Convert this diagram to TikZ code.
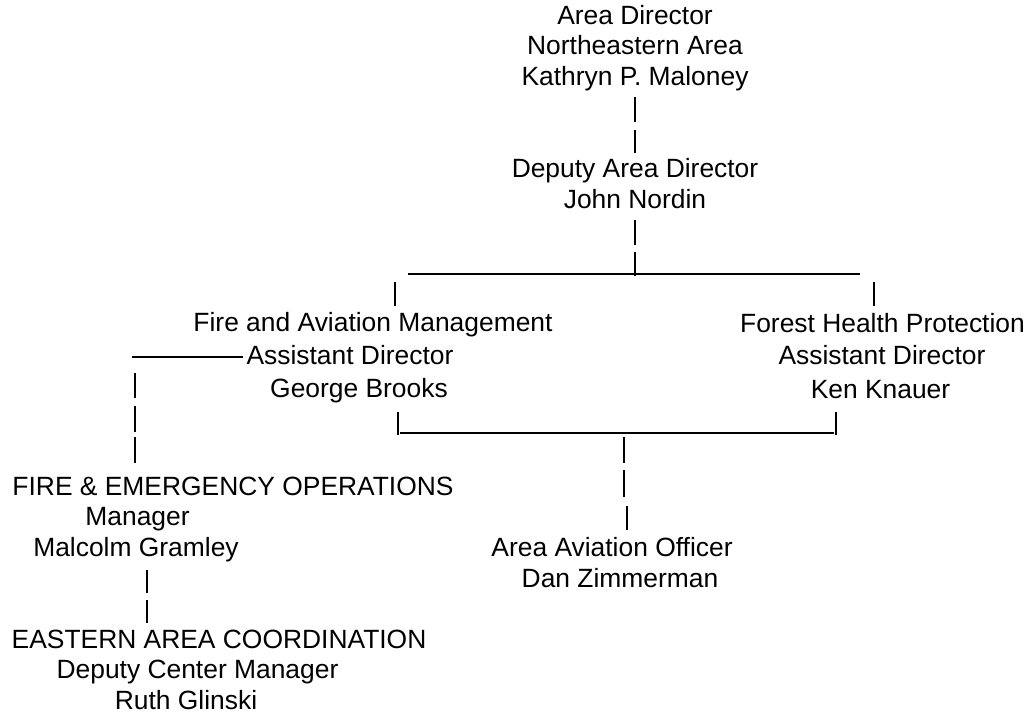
\documentclass[tikz,border=0pt]{standalone}
\usepackage{fontspec}
\setmainfont{Liberation Sans}
\begin{document}
\begin{tikzpicture}[x=1pt,y=-1pt,
  lbl/.style={inner sep=0pt, anchor=base, font=\fontsize{26.4}{31}\selectfont},
  pipe/.style={line width=1.9pt},
  bar/.style={line width=1.9pt},
  dashbar/.style={line width=1.6pt}]
\useasboundingbox[fill=white] (0,0) rectangle (1028,714);

% Area Director
\node[lbl] (ad1) at (635,25) {Area Director};
\node[lbl] (ad2) at (635,55) {Northeastern Area};
\node[lbl] (ad3) at (635,86) {Kathryn P. Maloney};
% Deputy
\node[lbl] (dad1) at (635,178) {Deputy Area Director};
\node[lbl] (dad2) at (635,209) {John Nordin};
% Fire and Aviation Management
\node[lbl] (fam1) at (373,331) {Fire and Aviation Management};
\node[lbl] (fam2) at (350,364) {Assistant Director};
\node[lbl] (fam3) at (359,397) {George Brooks};
% Forest Health Protection
\node[lbl] (fhp1) at (882.5,332) {Forest Health Protection};
\node[lbl] (fhp2) at (882,364) {Assistant Director};
\node[lbl] (fhp3) at (880.5,398) {Ken Knauer};
% Fire & Emergency Operations
\node[lbl] (feo1) at (233,495) {FIRE \& EMERGENCY OPERATIONS};
\node[lbl] (feo2) at (137.5,525) {Manager};
\node[lbl] (feo3) at (136,556) {Malcolm Gramley};
% Eastern Area Coordination
\node[lbl] (eac1) at (219,648) {EASTERN AREA COORDINATION};
\node[lbl] (eac2) at (197.5,678) {Deputy Center Manager};
\node[lbl] (eac3) at (186,709) {Ruth Glinski};
% Area Aviation Officer
\node[lbl] (aao1) at (612,556) {Area Aviation Officer};
\node[lbl] (aao2) at (620,587) {Dan Zimmerman};

% Area Director -> Deputy
\draw[pipe] ([yshift=-11pt]ad3.base) -- ([yshift=-36pt]ad3.base);
\draw[pipe] ([yshift=-44pt]ad3.base) -- ([yshift=25pt]dad1.base);

% Deputy -> top bar
\coordinate (hub) at (635,276);
\draw[pipe] ([yshift=-11pt]dad2.base) -- ([yshift=-36pt]dad2.base);
\draw[pipe] ([yshift=-43pt]dad2.base) -- (hub);
\coordinate (topL) at (408,274);
\coordinate (topR) at (860,274);
\draw[bar] (topL) -- (topR);
\coordinate (famT) at (395,282);
\coordinate (fhpT) at (874,282);
\draw[pipe] (famT) -- ++(0,24);
\draw[pipe] (fhpT) -- ++(0,24);

% Fire and Aviation -> Fire & Emergency Operations
\coordinate (feoL) at (132,357);
\draw[dashbar] (feoL) -- ++(111,0);
\coordinate (feoP1) at (135,373);
\coordinate (feoP2) at (135,406);
\coordinate (feoP3) at (135,437);
\draw[pipe] (feoP1) -- ++(0,25);
\draw[pipe] (feoP2) -- ++(0,26);
\draw[pipe] (feoP3) -- ++(0,26);

% Fire & Emergency Operations -> Eastern Area Coordination
\coordinate (eacP1) at (147,570);
\coordinate (eacP2) at (147,600);
\draw[pipe] (eacP1) -- ++(0,23);
\draw[pipe] (eacP2) -- ++(0,23);

% Bottom bar -> Area Aviation Officer
\coordinate (botL) at (398,412);
\coordinate (botR) at (836,412);
\draw[pipe] (botL) -- ++(0,23);
\draw[pipe] (botR) -- ++(0,23);
\coordinate (botBL) at (400,433);
\coordinate (botBR) at (834,433);
\draw[bar] (botBL) -- (botBR);
\coordinate (aaoP1) at (624,437);
\coordinate (aaoP2) at (624,470);
\coordinate (aaoP3) at (627,506);
\draw[pipe] (aaoP1) -- ++(0,26);
\draw[pipe] (aaoP2) -- ++(0,27);
\draw[pipe] (aaoP3) -- ++(0,24);
\end{tikzpicture}
\end{document}
